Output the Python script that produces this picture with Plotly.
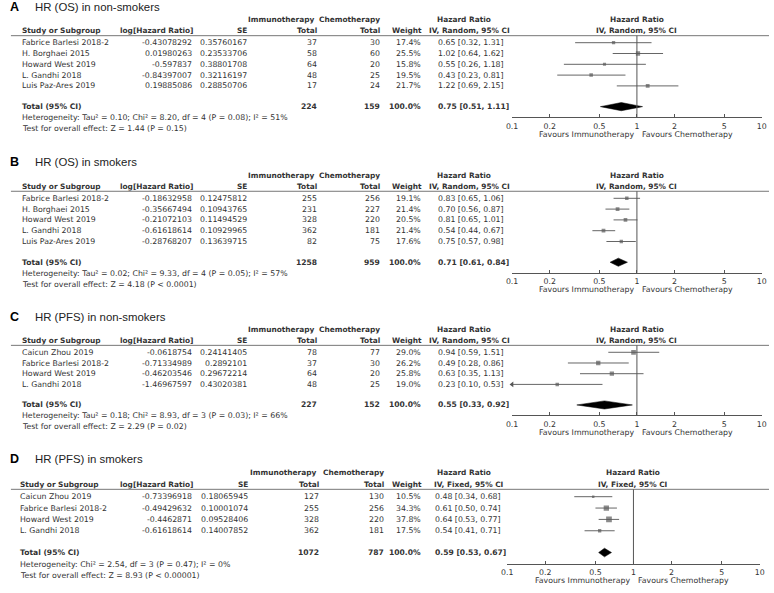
import math
import plotly.graph_objects as go

W, H = 774, 593
TEXT = "#333333"
LINE = "#555555"
FONT = "DejaVu Sans"
NULL_HR = 1
AXIS_MIN, AXIS_MAX = 0.1, 10
TICK_VALS = [0.1, 0.2, 0.5, 1, 2, 5, 10]
TICK_TEXT = ["0.1", "0.2", "0.5", "1", "2", "5", "10"]

# ---------------- Panel A ----------------
A_title = "HR (OS) in non-smokers"
A_studies = ["Fabrice Barlesi 2018-2", "H. Borghaei 2015", "Howard West 2019", "L. Gandhi 2018", "Luis Paz-Ares 2019"]
A_loghr = [-0.43078292, 0.01980263, -0.597837, -0.84397007, 0.19885086]
A_se = [0.35760167, 0.23533706, 0.38801708, 0.32116197, 0.28850706]
A_imm = [37, 58, 64, 48, 17]
A_chemo = [30, 60, 20, 25, 24]
A_weight = [17.4, 25.5, 15.8, 19.5, 21.7]
A_hr = [0.65, 1.02, 0.55, 0.43, 1.22]
A_lo = [0.32, 0.64, 0.26, 0.23, 0.69]
A_hi = [1.31, 1.62, 1.18, 0.81, 2.15]
A_totals = [224, 159]
A_pooled = [0.75, 0.51, 1.11]
A_method = "IV, Random, 95% CI"
A_het = "Heterogeneity: Tau² = 0.10; Chi² = 8.20, df = 4 (P = 0.08); I² = 51%"
A_test = "Test for overall effect: Z = 1.44 (P = 0.15)"

# ---------------- Panel B ----------------
B_title = "HR (OS) in smokers"
B_studies = ["Fabrice Barlesi 2018-2", "H. Borghaei 2015", "Howard West 2019", "L. Gandhi 2018", "Luis Paz-Ares 2019"]
B_loghr = [-0.18632958, -0.35667494, -0.21072103, -0.61618614, -0.28768207]
B_se = [0.12475812, 0.10943765, 0.11494529, 0.10929965, 0.13639715]
B_imm = [255, 231, 328, 362, 82]
B_chemo = [256, 227, 220, 181, 75]
B_weight = [19.1, 21.4, 20.5, 21.4, 17.6]
B_hr = [0.83, 0.70, 0.81, 0.54, 0.75]
B_lo = [0.65, 0.56, 0.65, 0.44, 0.57]
B_hi = [1.06, 0.87, 1.01, 0.67, 0.98]
B_totals = [1258, 959]
B_pooled = [0.71, 0.61, 0.84]
B_method = "IV, Random, 95% CI"
B_het = "Heterogeneity: Tau² = 0.02; Chi² = 9.33, df = 4 (P = 0.05); I² = 57%"
B_test = "Test for overall effect: Z = 4.18 (P < 0.0001)"

# ---------------- Panel C ----------------
C_title = "HR (PFS) in non-smokers"
C_studies = ["Caicun Zhou 2019", "Fabrice Barlesi 2018-2", "Howard West 2019", "L. Gandhi 2018"]
C_loghr = [-0.0618754, -0.71334989, -0.46203546, -1.46967597]
C_se = [0.24141405, 0.2892101, 0.29672214, 0.43020381]
C_imm = [78, 37, 64, 48]
C_chemo = [77, 30, 20, 25]
C_weight = [29.0, 26.2, 25.8, 19.0]
C_hr = [0.94, 0.49, 0.63, 0.23]
C_lo = [0.59, 0.28, 0.35, 0.10]
C_hi = [1.51, 0.86, 1.13, 0.53]
C_totals = [227, 152]
C_pooled = [0.55, 0.33, 0.92]
C_method = "IV, Random, 95% CI"
C_het = "Heterogeneity: Tau² = 0.18; Chi² = 8.93, df = 3 (P = 0.03); I² = 66%"
C_test = "Test for overall effect: Z = 2.29 (P = 0.02)"

# ---------------- Panel D ----------------
D_title = "HR (PFS) in smokers"
D_studies = ["Caicun Zhou 2019", "Fabrice Barlesi 2018-2", "Howard West 2019", "L. Gandhi 2018"]
D_loghr = [-0.73396918, -0.49429632, -0.4462871, -0.61618614]
D_se = [0.18065945, 0.10001074, 0.09528406, 0.14007852]
D_imm = [127, 255, 328, 362]
D_chemo = [130, 256, 220, 181]
D_weight = [10.5, 34.3, 37.8, 17.5]
D_hr = [0.48, 0.61, 0.64, 0.54]
D_lo = [0.34, 0.50, 0.53, 0.41]
D_hi = [0.68, 0.74, 0.77, 0.71]
D_totals = [1072, 787]
D_pooled = [0.59, 0.53, 0.67]
D_method = "IV, Fixed, 95% CI"
D_het = "Heterogeneity: Chi² = 2.54, df = 3 (P = 0.47); I² = 0%"
D_test = "Test for overall effect: Z = 8.93 (P < 0.00001)"

panels = [
    dict(letter="A", title=A_title, studies=A_studies, loghr=A_loghr, se=A_se, imm=A_imm, chemo=A_chemo,
         weight=A_weight, hr=A_hr, lo=A_lo, hi=A_hi, totals=A_totals, pooled=A_pooled, method=A_method,
         het=A_het, test=A_test),
    dict(letter="B", title=B_title, studies=B_studies, loghr=B_loghr, se=B_se, imm=B_imm, chemo=B_chemo,
         weight=B_weight, hr=B_hr, lo=B_lo, hi=B_hi, totals=B_totals, pooled=B_pooled, method=B_method,
         het=B_het, test=B_test),
    dict(letter="C", title=C_title, studies=C_studies, loghr=C_loghr, se=C_se, imm=C_imm, chemo=C_chemo,
         weight=C_weight, hr=C_hr, lo=C_lo, hi=C_hi, totals=C_totals, pooled=C_pooled, method=C_method,
         het=C_het, test=C_test),
    dict(letter="D", title=D_title, studies=D_studies, loghr=D_loghr, se=D_se, imm=D_imm, chemo=D_chemo,
         weight=D_weight, hr=D_hr, lo=D_lo, hi=D_hi, totals=D_totals, pooled=D_pooled, method=D_method,
         het=D_het, test=D_test),
]

# layout geometry (pixels) per panel
geom = [
    dict(y0=42.7, dy=10.8, ax0=513, ax1=767, study=15, loghr=190, se=245, imm=317, chemo=380, weight=422, hrc=437),
    dict(y0=198.3, dy=10.8, ax0=513, ax1=767, study=15, loghr=190, se=245, imm=317, chemo=380, weight=422, hrc=437),
    dict(y0=352.3, dy=10.7, ax0=513, ax1=767, study=15, loghr=190, se=245, imm=317, chemo=380, weight=422, hrc=437),
    dict(y0=496.7, dy=11.35, ax0=508, ax1=765, study=13, loghr=190, se=247, imm=319, chemo=384, weight=422, hrc=434),
]

fig = go.Figure()
annotations = []
shapes = []
FS = 7.8


def px2paper(x, y):
    return x / W, 1 - y / H


def txt(x, y, s, anchor="left", bold=False, size=FS, family=FONT, color=TEXT):
    px, py = px2paper(x, y)
    annotations.append(dict(x=px, y=py, xref="paper", yref="paper", text=f"<b>{s}</b>" if bold else s,
                            showarrow=False, xanchor=anchor, yanchor="middle", borderpad=0,
                            font=dict(family=family, size=size, color=color)))


for i, (p, g) in enumerate(zip(panels, geom)):
    k = i + 1
    xa = "x" if k == 1 else f"x{k}"
    ya = "y" if k == 1 else f"y{k}"
    n = len(p["studies"])
    y0, dy = g["y0"], g["dy"]
    rpx = lambda r: y0 + r * dy
    r_line, r_axis = -0.65, n + 1.9
    r_total = n + 0.92

    # title
    txt(3, rpx(-3.33), p["letter"], bold=True, size=12.5, family="Liberation Sans", color="#000")
    txt(28, rpx(-3.33), p["title"], size=11.4, family="Liberation Sans", color="#222")

    # headers
    h1, h2 = rpx(-2.15), rpx(-1.1)
    txt(g["imm"] - 4, h1, "Immunotherapy", "right", bold=True, size=7.4)
    txt(g["chemo"], h1, "Chemotherapy", "right", bold=True, size=7.4)
    txt(465, h1, "Hazard Ratio", "center", bold=True, size=7.4)
    txt(g["study"], h2, "Study or Subgroup", "left", bold=True, size=7.4)
    txt(g["loghr"] + 1, h2, "log[Hazard Ratio]", "right", bold=True, size=7.4)
    txt(g["se"], h2, "SE", "right", bold=True, size=7.4)
    txt(g["imm"], h2, "Total", "right", bold=True, size=7.4)
    txt(g["chemo"], h2, "Total", "right", bold=True, size=7.4)
    txt(g["weight"] + 1, h2, "Weight", "right", bold=True, size=7.4)
    txt(470, h2, p["method"], "center", bold=True, size=7.4)
    for lab, r in (("Hazard Ratio", -2.15), (p["method"], -1.1)):
        annotations.append(dict(x=math.log10(NULL_HR), y=1 - rpx(r) / H, xref=xa, yref="paper", text=f"<b>{lab}</b>",
                                showarrow=False, xanchor="center", yanchor="middle",
                                font=dict(family=FONT, size=7.4, color=TEXT)))

    # header rule
    ly = 1 - rpx(r_line) / H
    shapes.append(dict(type="line", xref="paper", yref="paper", x0=5 / W, x1=1, y0=ly, y1=ly,
                       line=dict(color="#777", width=1)))

    # study rows
    for j in range(n):
        yy = rpx(j)
        txt(g["study"], yy, p["studies"][j])
        txt(g["loghr"], yy, str(p["loghr"][j]), "right")
        txt(g["se"], yy, str(p["se"][j]), "right")
        txt(g["imm"], yy, str(p["imm"][j]), "right")
        txt(g["chemo"], yy, str(p["chemo"][j]), "right")
        txt(g["weight"], yy, f"{p['weight'][j]:.1f}%", "right")
        txt(g["hrc"], yy, f"{p['hr'][j]:.2f} [{p['lo'][j]:.2f}, {p['hi'][j]:.2f}]", "left")

    # total row
    yt = rpx(r_total)
    txt(g["study"], yt, "Total (95% CI)", bold=True, size=7.6)
    txt(g["imm"], yt, str(p["totals"][0]), "right", bold=True, size=7.6)
    txt(g["chemo"], yt, str(p["totals"][1]), "right", bold=True, size=7.6)
    txt(g["weight"], yt, "100.0%", "right", bold=True, size=7.6)
    ph, pl, pu = p["pooled"]
    txt(g["hrc"], yt, f"{ph:.2f} [{pl:.2f}, {pu:.2f}]", "left", bold=True, size=7.6)
    txt(g["study"], rpx(n + 1.95), p["het"])
    txt(g["study"], rpx(n + 2.95), p["test"])

    # favours labels
    fy = 1 - (rpx(r_axis) + 17) / H
    annotations.append(dict(x=math.log10(NULL_HR), y=fy, xref=xa, yref="paper", text="Favours Immunotherapy",
                            showarrow=False, xanchor="right", yanchor="middle", xshift=-1,
                            font=dict(family=FONT, size=FS, color=TEXT)))
    annotations.append(dict(x=math.log10(NULL_HR), y=fy, xref=xa, yref="paper", text="Favours Chemotherapy",
                            showarrow=False, xanchor="left", yanchor="middle", xshift=3,
                            font=dict(family=FONT, size=FS, color=TEXT)))

    # CI lines
    cx, cy = [], []
    for j in range(n):
        cx += [max(p["lo"][j], AXIS_MIN), min(p["hi"][j], AXIS_MAX), None]
        cy += [j, j, None]
    fig.add_trace(go.Scatter(x=cx, y=cy, mode="lines", line=dict(color="#666", width=1),
                             xaxis=xa, yaxis=ya, hoverinfo="skip", showlegend=False, cliponaxis=False))
    # arrows for CIs reaching the axis limit
    arx = [AXIS_MIN for j in range(n) if p["lo"][j] <= AXIS_MIN]
    ary = [j for j in range(n) if p["lo"][j] <= AXIS_MIN]
    if arx:
        fig.add_trace(go.Scatter(x=arx, y=ary, mode="markers", marker=dict(symbol="triangle-left", size=5, color="#555"),
                                 xaxis=xa, yaxis=ya, hoverinfo="skip", showlegend=False, cliponaxis=False))
    # squares
    fig.add_trace(go.Scatter(x=p["hr"], y=list(range(n)), mode="markers",
                             marker=dict(symbol="square", color="#5a5a5a",
                                         size=[1.2 + 0.12 * w for w in p["weight"]], line=dict(width=0)),
                             xaxis=xa, yaxis=ya, hoverinfo="skip", showlegend=False))
    # diamond
    hh = 0.38
    fig.add_trace(go.Scatter(x=[pl, ph, pu, ph, pl], y=[r_total, r_total - hh, r_total, r_total + hh, r_total],
                             mode="lines", fill="toself", fillcolor="#000", line=dict(color="#000", width=0.5),
                             xaxis=xa, yaxis=ya, hoverinfo="skip", showlegend=False))
    # null line
    shapes.append(dict(type="line", xref=xa, yref=f"{ya} domain", x0=NULL_HR, x1=NULL_HR, y0=0, y1=1,
                       line=dict(color=LINE, width=1)))

    eps = 0.003
    fig.update_layout(**{
        ("xaxis" if k == 1 else f"xaxis{k}"): dict(
            type="log", range=[math.log10(AXIS_MIN) - eps, math.log10(AXIS_MAX) + eps],
            domain=[g["ax0"] / W, g["ax1"] / W], anchor=ya,
            tickvals=TICK_VALS, ticktext=TICK_TEXT, ticks="inside", ticklen=3, tickcolor=LINE,
            showline=True, linecolor=LINE, linewidth=1, showgrid=False, zeroline=False,
            ticklabelstandoff=1,
            tickfont=dict(family=FONT, size=FS, color=TEXT), fixedrange=True),
        ("yaxis" if k == 1 else f"yaxis{k}"): dict(
            range=[r_axis, r_line], domain=[1 - rpx(r_axis) / H, 1 - rpx(r_line) / H], anchor=xa,
            visible=False, showgrid=False, zeroline=False, fixedrange=True),
    })

fig.update_layout(width=W, height=H, margin=dict(l=0, r=0, t=0, b=0),
                  paper_bgcolor="white", plot_bgcolor="white",
                  annotations=annotations, shapes=shapes, showlegend=False)
fig.write_html("out.html", config=dict(displayModeBar=False, staticPlot=True),
               post_script="document.body.style.margin='0';document.body.style.overflow='hidden';")
